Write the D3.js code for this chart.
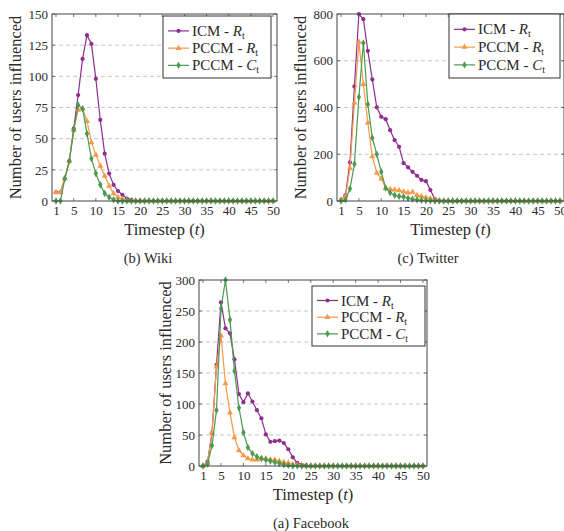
<!DOCTYPE html>
<html><head><meta charset="utf-8">
<script src="https://cdn.jsdelivr.net/npm/d3@7"></script>
<style>
html,body{margin:0;padding:0;background:#fff;}
svg text{font-family:"Liberation Serif","Times New Roman",serif;fill:#2a2a2a;}
</style></head>
<body>
<svg id="c" width="564" height="531"></svg>
<script>
// ---------- data ----------
const timesteps = d3.range(1, 51);
const xTicks = [1,5,10,15,20,25,30,35,40,45,50];
const seriesNames = ["ICM", "PCCM", "PCCM"];
const seriesSymbols = ["R", "R", "C"];

const wikiICM   = [7,7,18,32,58,85,114,133,126,98, 65,38,22,13,8,5,2,1,0,0, 0,0,0,0,0,0,0,0,0,0, 0,0,0,0,0,0,0,0,0,0, 0,0,0,0,0,0,0,0,0,0];
const wikiPCCMR = [7,7,18,32,57,73,74,64,47,37, 28,20,12,6,3,1.5,0.5,0,0,0, 0,0,0,0,0,0,0,0,0,0, 0,0,0,0,0,0,0,0,0,0, 0,0,0,0,0,0,0,0,0,0];
const wikiPCCMC = [0,0,18,32,57,77,74,54,34,22, 13,6,3,1,0,0,0,0,0,0, 0,0,0,0,0,0,0,0,0,0, 0,0,0,0,0,0,0,0,0,0, 0,0,0,0,0,0,0,0,0,0];
const wikiYTicks = [0,25,50,75,100,125,150];

const twitterICM   = [5,25,165,490,800,778,642,520,401,360, 350,303,260,232,162,144,125,108,90,85, 47,8,2,0,0,0,0,0,0,0, 0,0,0,0,0,0,0,0,0,0, 0,0,0,0,0,0,0,0,0,0];
const twitterPCCMR = [5,20,140,420,680,500,335,190,120,95, 55,50,48,45,40,35,38,25,20,15, 10,5,2,1,0,0,0,0,0,0, 0,0,0,0,0,0,0,0,0,0, 0,0,0,0,0,0,0,0,0,0];
const twitterPCCMC = [0,5,52,158,445,676,414,270,200,125, 55,35,25,20,18,12,8,5,3,2, 1,0,0,0,0,0,0,0,0,0, 0,0,0,0,0,0,0,0,0,0, 0,0,0,0,0,0,0,0,0,0];
const twitterYTicks = [0,200,400,600,800];

const fbICM   = [0,7,53,163,264,222,214,172,116,103, 117,104,90,77,51,39,40,41,37,27, 14,5,2,1,0,0,0,0,0,0, 0,0,0,0,0,0,0,0,0,0, 0,0,0,0,0,0,0,0,0,0];
const fbPCCMR = [0,5,55,160,210,133,86,46,25,17, 12,10,10,12,12,10,10,8,6,5, 3,2,1,0,0,0,0,0,0,0, 0,0,0,0,0,0,0,0,0,0, 0,0,0,0,0,0,0,0,0,0];
const fbPCCMC = [0,3,33,90,254,300,236,153,94,54, 30,20,15,12,10,8,6,4,2,1, 0,0,0,0,0,0,0,0,0,0, 0,0,0,0,0,0,0,0,0,0, 0,0,0,0,0,0,0,0,0,0];
const fbYTicks = [0,50,100,150,200,250,300];

const captions = ["(b) Wiki", "(c) Twitter", "(a) Facebook"];
const xLabel = "Timestep";
const yLabel = "Number of users influenced";

// ---------- style / layout ----------
const colors = ["#8e2f8e", "#f5994a", "#4b9a4f"];
const symbols = [d3.symbolCircle, d3.symbolTriangle, d3.symbolDiamond];
const symSizes = [14, 16, 16];

const panels = [
  {series:[wikiICM, wikiPCCMR, wikiPCCMC], yTicks:wikiYTicks, caption:captions[0],
   left:52, right:277, top:14, bottom:201, legend:{x:163, y:16, w:108, h:62}, ylabX:15, capX:148},
  {series:[twitterICM, twitterPCCMR, twitterPCCMC], yTicks:twitterYTicks, caption:captions[1],
   left:337, right:564, top:14, bottom:201, legend:{x:449, y:14, w:111, h:64}, ylabX:300, capX:428},
  {series:[fbICM, fbPCCMR, fbPCCMC], yTicks:fbYTicks, caption:captions[2],
   left:199, right:427, top:280, bottom:466, legend:{x:312, y:286, w:113, h:60}, ylabX:165, capX:311}
];

const svg = d3.select("#c");

panels.forEach(p => {
  const g = svg.append("g");
  const x = d3.scaleLinear().domain([0.1, 50.9]).range([p.left, p.right]);
  const y = d3.scaleLinear().domain([0, d3.max(p.yTicks)]).range([p.bottom, p.top]);

  // grid
  g.append("g").selectAll("line").data(p.yTicks.slice(1, -1)).join("line")
    .attr("x1", p.left).attr("x2", p.right)
    .attr("y1", d => y(d)).attr("y2", d => y(d))
    .attr("stroke", "#b8b8b8").attr("stroke-width", 0.8).attr("stroke-dasharray", "4,3");

  // axes via d3
  const xAxis = d3.axisBottom(x).tickValues(xTicks).tickSize(0).tickPadding(5);
  const gx = g.append("g").attr("transform", `translate(0,${p.bottom})`).call(xAxis);
  gx.select(".domain").remove();
  gx.selectAll("text").attr("font-size", 13).attr("font-family", "Liberation Serif").attr("fill", "#2a2a2a");

  const yAxis = d3.axisLeft(y).tickValues(p.yTicks).tickSize(0).tickPadding(4);
  const gy = g.append("g").attr("transform", `translate(${p.left},0)`).call(yAxis);
  gy.select(".domain").remove();
  gy.selectAll("text").attr("font-size", 13).attr("font-family", "Liberation Serif").attr("fill", "#2a2a2a");

  // inner tick marks
  const tk = g.append("g").attr("stroke", "#555").attr("stroke-width", 0.8);
  xTicks.forEach(t => {
    tk.append("line").attr("x1", x(t)).attr("x2", x(t)).attr("y1", p.bottom).attr("y2", p.bottom - 3);
    tk.append("line").attr("x1", x(t)).attr("x2", x(t)).attr("y1", p.top).attr("y2", p.top + 3);
  });
  p.yTicks.forEach(v => {
    tk.append("line").attr("x1", p.left).attr("x2", p.left + 3).attr("y1", y(v)).attr("y2", y(v));
    tk.append("line").attr("x1", p.right).attr("x2", p.right - 3).attr("y1", y(v)).attr("y2", y(v));
  });

  // series
  const line = d3.line().x((d, i) => x(timesteps[i])).y(d => y(d));
  p.series.forEach((s, k) => {
    g.append("path").datum(s).attr("d", line).attr("fill", "none")
      .attr("stroke", colors[k]).attr("stroke-width", 1.2);
    g.append("g").selectAll("path").data(s).join("path")
      .attr("transform", (d, i) => `translate(${x(timesteps[i])},${y(d)})`)
      .attr("d", d3.symbol().type(symbols[k]).size(symSizes[k]))
      .attr("fill", colors[k]);
  });

  // frame
  g.append("rect").attr("x", p.left).attr("y", p.top)
    .attr("width", p.right - p.left).attr("height", p.bottom - p.top)
    .attr("fill", "none").attr("stroke", "#444").attr("stroke-width", 1);

  // legend
  const L = p.legend;
  const lg = g.append("g");
  lg.append("rect").attr("x", L.x).attr("y", L.y).attr("width", L.w).attr("height", L.h)
    .attr("fill", "#fff").attr("stroke", "#333").attr("stroke-width", 1);
  const step = L.h / 3.6;
  seriesNames.forEach((nm, k) => {
    const ly = L.y + step * (k + 0.75) + 2;
    lg.append("line").attr("x1", L.x + 5).attr("x2", L.x + 26).attr("y1", ly).attr("y2", ly)
      .attr("stroke", colors[k]).attr("stroke-width", 1.2);
    lg.append("path").attr("transform", `translate(${L.x + 15.5},${ly})`)
      .attr("d", d3.symbol().type(symbols[k]).size(symSizes[k])).attr("fill", colors[k]);
    const t = lg.append("text").attr("x", L.x + 29).attr("y", ly + 5).attr("font-size", 15);
    t.append("tspan").text(nm + " - ");
    t.append("tspan").attr("font-style", "italic").text(seriesSymbols[k]);
    t.append("tspan").attr("font-size", 10).attr("dy", 3).text("t");
  });

  // x label
  const xl = g.append("text").attr("x", (p.left + p.right) / 2).attr("y", p.bottom + 34)
    .attr("text-anchor", "middle").attr("font-size", 16.5);
  xl.append("tspan").text(xLabel + " (");
  xl.append("tspan").attr("font-style", "italic").text("t");
  xl.append("tspan").text(")");

  // y label
  g.append("text").attr("transform", `translate(${p.ylabX},${(p.top + p.bottom) / 2}) rotate(-90)`)
    .attr("text-anchor", "middle").attr("dy", "0.35em").attr("font-size", 16.5).text(yLabel);

  // caption
  g.append("text").attr("x", p.capX).attr("y", p.bottom + 62).attr("text-anchor", "middle")
    .attr("font-size", 14.5).text(p.caption);
});
</script>
</body></html>
